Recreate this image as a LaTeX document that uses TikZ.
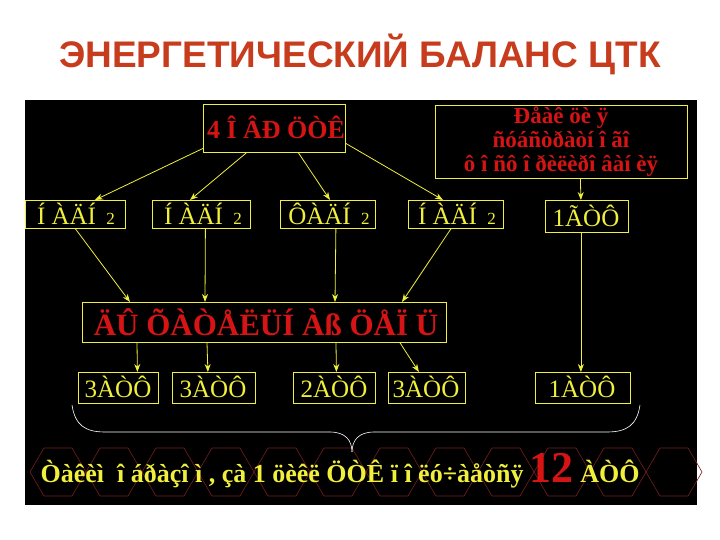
\documentclass[tikz,border=0pt]{standalone}
\usepackage{fontspec}
\setmainfont{Liberation Serif}
\newfontfamily\titlefont{Liberation Sans}
\usetikzlibrary{calc,arrows.meta}
\definecolor{ylw}{RGB}{240,240,60}
\definecolor{rd}{RGB}{215,20,20}
\definecolor{ttl}{RGB}{200,60,30}
\definecolor{hexc}{RGB}{120,30,30}
\tikzset{
  bx/.style={draw=ylw, line width=0.8pt, inner sep=0pt, anchor=north west},
  yt/.style={text=ylw, font=\fontsize{25}{27}\selectfont},
  rt/.style={text=rd, font=\bfseries\fontsize{26}{28}\selectfont},
  arr/.style={draw=ylw, line width=0.8pt, -{Stealth[length=8pt,width=6pt]}}
}
\begin{document}
\begin{tikzpicture}[x=1pt,y=-1pt]
\useasboundingbox (0,0) rectangle (720,540);
\fill[white] (0,0) rectangle (720,540);
\node[font=\titlefont\bfseries\fontsize{37}{40}\selectfont, text=ttl] (title) at (360,54) {ЭНЕРГЕТИЧЕСКИЙ БАЛАНС ЦТК};
\fill[black] (25,100) rectangle (697,505);
% hexagon band
\foreach \i in {0,...,11} {
  \draw[hexc, line width=0.6pt] ({30+\i*56},472) -- ++(14,-24) -- ++(28,0) -- ++(14,24) -- ++(-14,24) -- ++(-28,0) -- cycle;
}
% top box
\node[bx, minimum width=142, minimum height=48] (top) at (203,104) {};
\node[rt] (toptxt) at (276,127) {4 Î ÂÐ ÖÒÊ};
% right box
\node[bx, minimum width=252, minimum height=73] (rb) at (435,105) {};
\node[rt, align=center, font=\bfseries\fontsize{23}{24}\selectfont] (rbtxt) at (561,142) {Ðåàê öè ÿ\\ñóáñòðàòí î ãî\\ô î ñô î ðèëèðî âàí èÿ};
% row 2
\node[bx, minimum width=100, minimum height=28] (n1) at (25,200) {};
\node[yt] (n1t) at (76,214) {Í ÀÄÍ \,{\fontsize{17}{18}\selectfont 2}};
\node[bx, minimum width=98, minimum height=28] (n2) at (152,200) {};
\node[yt] (n2t) at (203,214) {Í ÀÄÍ \,{\fontsize{17}{18}\selectfont 2}};
\node[bx, minimum width=95, minimum height=28] (n3) at (280,200) {};
\node[yt] (n3t) at (329,214) {ÔÀÄÍ \,{\fontsize{17}{18}\selectfont 2}};
\node[bx, minimum width=95, minimum height=28] (n4) at (408,200) {};
\node[yt] (n4t) at (457,214) {Í ÀÄÍ \,{\fontsize{17}{18}\selectfont 2}};
\node[bx, minimum width=83, minimum height=32] (g) at (545,200) {};
\node[yt] (gt) at (586,216) {1ÃÒÔ};
% big box
\node[bx, minimum width=364, minimum height=40] (dc) at (82,302) {};
\node[rt, font=\bfseries\fontsize{31}{32}\selectfont] (dct) at (266,322) {ÄÛ ÕÀÒÅËÜÍ Àß ÖÅÏ Ü};
% row 4
\node[bx, minimum width=80, minimum height=31] (a1) at (78,372) {};
\node[yt] (a1t) at (118,387) {3ÀÒÔ};
\node[bx, minimum width=83, minimum height=31] (a2) at (172,372) {};
\node[yt] (a2t) at (213,387) {3ÀÒÔ};
\node[bx, minimum width=82, minimum height=31] (a3) at (293,372) {};
\node[yt] (a3t) at (334,387) {2ÀÒÔ};
\node[bx, minimum width=77, minimum height=31] (a4) at (388,372) {};
\node[yt] (a4t) at (426,387) {3ÀÒÔ};
\node[bx, minimum width=95, minimum height=31] (a5) at (535,372) {};
\node[yt] (a5t) at (582,387) {1ÀÒÔ};
% arrows top -> row 2
\draw[arr] ([yshift=-20]top.west) -- ([xshift=70]n1.north west);
\draw[arr] ([xshift=-28]top.south) -- ([xshift=38]n2.north west);
\draw[arr] ([xshift=24]top.south) -- ([xshift=50]n3.north west);
\draw[arr] ([yshift=-15]top.east) -- ([xshift=35]n4.north west);
\draw[arr] ([xshift=19]rb.south) -- ([xshift=-6]g.north);
% row 2 -> big box
\draw[arr] (n1.south) -- ([xshift=48]dc.north west);
\draw[arr] ([xshift=4]n2.south) -- ([xshift=123]dc.north west);
\draw[arr] ([xshift=8]n3.south) -- ([xshift=253]dc.north west);
\draw[arr] ([xshift=-5]n4.south) -- ([xshift=320]dc.north west);
\draw[arr] ([xshift=-6]g.south) -- ([xshift=-2]a5.north);
% big box -> row 4
\draw[arr] ([xshift=55]dc.south west) -- ([xshift=19]a1.north);
\draw[arr] ([xshift=125]dc.south west) -- ([xshift=-6]a2.north);
\draw[arr] ([xshift=254]dc.south west) -- ([xshift=2]a3.north);
\draw[arr] ([xshift=318]dc.south west) -- ([xshift=-8]a4.north);
% brace
\coordinate (bl) at (72,405);
\coordinate (br) at (640,405);
\coordinate (bt) at (352,452);
\draw[white, line width=0.6pt] (bl) .. controls (75,425) and (85,432) .. (105,432) -- (330,432) .. controls (345,432) and (352,440) .. (bt);
\draw[white, line width=0.6pt] (br) .. controls (637,425) and (627,432) .. (607,432) -- (374,432) .. controls (359,432) and (352,440) .. (bt);
% bottom text
\node[text=ylw, font=\bfseries\fontsize{26}{28}\selectfont, anchor=base west] (bot) at (37,482) {Òàêèì \ î áðàçî ì , çà 1 öèêë ÖÒÊ ï î ëó÷àåòñÿ \textcolor{rd}{\fontsize{44}{46}\selectfont 12} ÀÒÔ};
\end{tikzpicture}
\end{document}
